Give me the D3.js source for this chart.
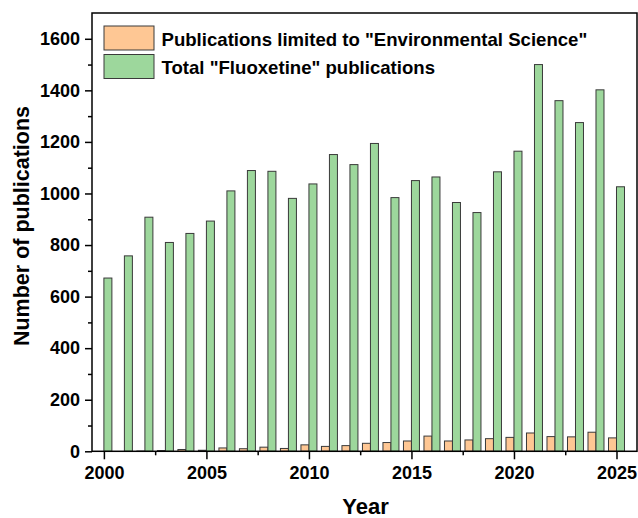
<!DOCTYPE html>
<html>
<head>
<meta charset="utf-8">
<script src="https://cdn.jsdelivr.net/npm/d3@7"></script>
<style>
  html, body { margin: 0; padding: 0; background: #fff; }
  svg { display: block; }
  text { font-family: "Liberation Sans", Arial, sans-serif; font-weight: bold; fill: #000; }
</style>
</head>
<body>
<svg id="chart" width="638" height="518"></svg>
<script>
const years = [2000,2001,2002,2003,2004,2005,2006,2007,2008,2009,2010,2011,2012,2013,2014,2015,2016,2017,2018,2019,2020,2021,2022,2023,2024,2025];
const envSci = [0,0,1,3,7,4,13,10,16,11,25,19,22,31,34,40,59,40,44,49,54,71,57,56,74,52];
const total = [672,758,908,810,845,893,1010,1089,1086,981,1037,1151,1112,1194,984,1050,1064,965,926,1084,1164,1500,1360,1275,1402,1026];
const yTicks = [0,200,400,600,800,1000,1200,1400,1600];
const xTicks = [2000,2005,2010,2015,2020,2025];
const seriesNames = ['Publications limited to "Environmental Science"', 'Total "Fluoxetine" publications'];
const colors = ["#FEC794", "#9DD79C"];

const svg = d3.select("#chart");
const L = 92, R = 637, T = 13, B = 451.3;
const x = d3.scaleLinear().domain([1999.42, 2026]).range([L, R]);
const y = d3.scaleLinear().domain([0, 1700]).range([B, T]);
const bw = 0.39;

// bars
const g = svg.append("g");
g.selectAll("rect.env").data(years).join("rect")
  .attr("class","env")
  .attr("x", (d) => x(d - bw))
  .attr("width", (d) => x(d) - x(d - bw))
  .attr("y", (d,i) => y(envSci[i]))
  .attr("height", (d,i) => y(0) - y(envSci[i]))
  .attr("fill", colors[0]).attr("stroke", "#3a3a3a").attr("stroke-width", 1);
g.selectAll("rect.tot").data(years).join("rect")
  .attr("class","tot")
  .attr("x", (d) => x(d))
  .attr("width", (d) => x(d + bw) - x(d))
  .attr("y", (d,i) => y(total[i]))
  .attr("height", (d,i) => y(0) - y(total[i]))
  .attr("fill", colors[1]).attr("stroke", "#3a3a3a").attr("stroke-width", 1);

// axes
const yAxis = d3.axisLeft(y).tickValues(yTicks).tickSize(7).tickPadding(5).tickFormat(d3.format("d"));
const yMinor = d3.axisLeft(y).tickValues(d3.range(100, 1700, 200)).tickSize(4).tickFormat("");
const xAxis = d3.axisBottom(x).tickValues(xTicks).tickSize(8).tickPadding(7).tickFormat(d3.format("d"));
const xMinor = d3.axisBottom(x).tickValues([2002.5,2007.5,2012.5,2017.5,2022.5]).tickSize(4).tickFormat("");

function style(sel){
  sel.select(".domain").remove();
  sel.selectAll("line").attr("stroke","#000").attr("stroke-width",1.5);
  sel.selectAll("text").style("font-size","18px").attr("fill","#000");
}
svg.append("g").attr("transform",`translate(${L},0)`).call(yAxis).call(style);
svg.append("g").attr("transform",`translate(${L},0)`).call(yMinor).call(style);
svg.append("g").attr("transform",`translate(0,${B})`).call(xAxis).call(style);
svg.append("g").attr("transform",`translate(0,${B})`).call(xMinor).call(style);

// frame
svg.append("rect").attr("x",L).attr("y",T).attr("width",R-L).attr("height",B-T)
  .attr("fill","none").attr("stroke","#000").attr("stroke-width",1.5);

// titles
svg.append("text").attr("transform",`translate(29,226) rotate(-90)`)
  .attr("text-anchor","middle").style("font-size","21.5px").text("Number of publications");
svg.append("text").attr("x",(L+R)/2 + 1).attr("y",514)
  .attr("text-anchor","middle").style("font-size","22px").text("Year");

// legend
const leg = svg.append("g");
seriesNames.forEach((name,i) => {
  leg.append("rect").attr("x",104).attr("y",26 + i*28.5).attr("width",50).attr("height",24)
    .attr("fill",colors[i]).attr("stroke","#3a3a3a").attr("stroke-width",1);
  leg.append("text").attr("x",161.5).attr("y",45.5 + i*28.5).style("font-size","18.6px").text(name);
});
</script>
</body>
</html>
